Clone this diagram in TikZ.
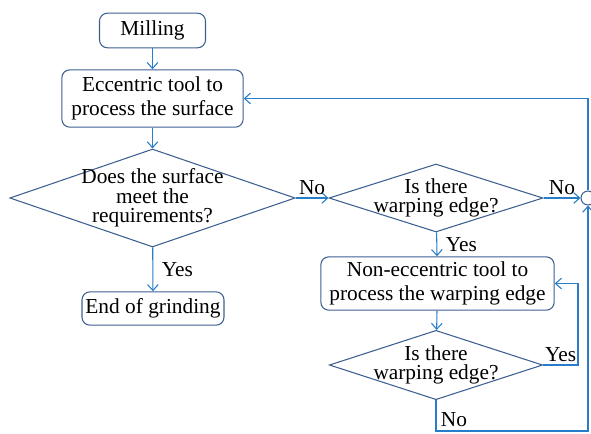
\documentclass[tikz,border=0pt]{standalone}
\usepackage{fontspec}
\setmainfont{Liberation Serif}
\usetikzlibrary{shapes.geometric,arrows.meta}
\definecolor{box-blue}{RGB}{62,96,145}
\definecolor{line-blue}{RGB}{40,125,200}

\begin{document}
\begin{tikzpicture}[x=0.75pt, y=-0.75pt,
		font=\fontsize{16}{18}\selectfont,
		stepbox/.style={draw=box-blue, line width=0.8pt, rounded corners=6pt, align=center, inner sep=0pt},
		query/.style={draw=box-blue, line width=0.8pt, diamond, shape aspect=3, inner sep=-40pt, align=center, font=\fontsize{16}{14.5}\selectfont},
		arr/.style={draw=line-blue, line width=0.8pt, -{Straight Barb[length=4.5pt, width=8pt]}}]
		\useasboundingbox (0,0) rectangle (591,433);
		
		% Draw the process blocks
		\node (mill) [stepbox, minimum width=79.5pt, minimum height=26pt] at (152.5,30.5) {Milling};
		\node (ecc) [stepbox, minimum width=136pt, minimum height=43pt] at (152.5,98.5) {Eccentric tool to\\process the surface};
		\node (end) [stepbox, minimum width=106.5pt, minimum height=25pt] at (153,308.5) {End of grinding};
		\node (noecc) [stepbox, minimum width=175pt, minimum height=40pt] at (437.5,283.5) {Non-eccentric tool to\\process the warping edge};
		
		% Draw the decisions
		\node (q1) [query, minimum width=214pt, minimum height=73.5pt] at (152.5,198) {Does the surface\\meet the\\requirements?};
		\node (q2) [query, minimum width=160.5pt, minimum height=51pt] at (436,198) {Is there\\warping edge?};
		\node (q3) [query, minimum width=160pt, minimum height=52pt] at (436,365) {Is there\\warping edge?};
		
		% Draw the junction and the turning points
		\node (join) [draw=box-blue, line width=0.8pt, circle, minimum size=10.5pt, inner sep=0pt] at (588,198) {};
		\coordinate (yesturn) at (578,365);
		\coordinate (noturn) at (436,431);
		
		% Connect the blocks with arrows
		\draw[arr] (mill) -- (ecc);
		\draw[arr] (ecc) -- (q1);
		\draw[arr] (q1) -- node[right, xshift=3pt] {Yes} (end);
		\draw[arr] (q1) -- node[above, yshift=-1pt] {No} (q2);
		\draw[arr] (q2) -- node[right, xshift=3pt] {Yes} (noecc);
		\draw[arr] (q2) -- node[above, yshift=-1pt] {No} (join);
		\draw[arr] (noecc) -- (q3);
		
		% Draw the feedback loops
		\draw[arr] (join.north) |- (ecc.east);
		\draw[arr] (q3.east) -- node[above, yshift=-1pt] {Yes} (yesturn) |- (noecc.east);
		\draw[arr] (q3.south) -- node[right, pos=0.62] {No} (noturn) -| (join.south);
\end{tikzpicture}
\end{document}
